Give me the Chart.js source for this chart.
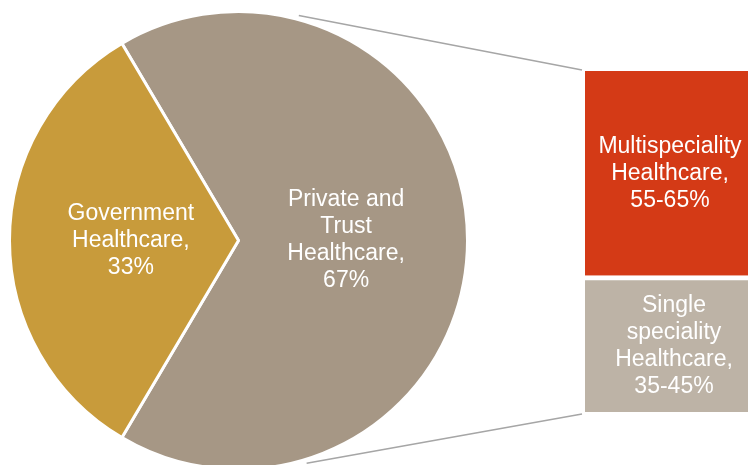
<!DOCTYPE html>
<html>
<head>
<meta charset="utf-8">
<script src="https://cdn.jsdelivr.net/npm/chart.js@4.4.1/dist/chart.umd.min.js"></script>
<style>
  html, body { margin: 0; padding: 0; width: 748px; height: 465px; overflow: hidden; background: #fff; }
  .layer { position: absolute; left: 0; top: 0; width: 760px; height: 480px; }
</style>
</head>
<body>
<div class="layer"><canvas id="pieChart"></canvas></div>
<div class="layer"><canvas id="barChart"></canvas></div>
<script>
// healthcare split: ownership pie + breakdown of the private slice
const pieLabels = ['Private and Trust Healthcare', 'Government Healthcare'];
const pieLines = [['Private and', 'Trust', 'Healthcare,'], ['Government', 'Healthcare,']];
const pieValues = [67, 33];
const pieColors = ['#A69785', '#C89B3B'];

const barLabels = ['Single speciality Healthcare', 'Multispeciality Healthcare'];
const barLines = [['Single', 'speciality', 'Healthcare,'], ['Multispeciality', 'Healthcare,']];
const barRanges = [[35, 45], [55, 65]];
const barColors = ['#BDB3A6', '#D43A16'];

const barValues = barRanges.map(r => (r[0] + r[1]) / 2);

const FONT = '23px "Liberation Sans", Arial, sans-serif';
const LINE_H = 27;

const drawLines = (ctx, lines, x, y) => {
  ctx.save();
  ctx.fillStyle = '#fff';
  ctx.font = FONT;
  ctx.textAlign = 'center';
  ctx.textBaseline = 'middle';
  const top = y - (lines.length - 1) * LINE_H / 2;
  lines.forEach((t, i) => ctx.fillText(t, x, top + i * LINE_H));
  ctx.restore();
};

// private slice spans 241.2deg centred on the right side
const privateSweep = pieValues[0] / (pieValues[0] + pieValues[1]) * 360;
const pieRotation = 90 - privateSweep / 2;

const pieLabelPlugin = {
  id: 'pieLabels',
  afterDatasetsDraw(chart) {
    const ctx = chart.ctx;
    chart.getDatasetMeta(0).data.forEach((arc, i) => {
      const mid = (arc.startAngle + arc.endAngle) / 2;
      const r = arc.outerRadius * 0.47;
      const lines = pieLines[i].concat(pieValues[i] + '%');
      drawLines(ctx, lines, arc.x + Math.cos(mid) * r, arc.y + Math.sin(mid) * r);
    });
  }
};

const pieChart = new Chart(document.getElementById('pieChart'), {
  type: 'pie',
  data: {
    labels: pieLabels,
    datasets: [{
      data: pieValues,
      backgroundColor: pieColors,
      borderColor: '#fff',
      borderWidth: 3,
      hoverOffset: 0
    }]
  },
  options: {
    responsive: true,
    maintainAspectRatio: false,
    animation: false,
    rotation: pieRotation,
    layout: { padding: { left: 8, top: 10, right: 291, bottom: 9 } },
    plugins: { legend: { display: false }, tooltip: { enabled: false } }
  },
  plugins: [pieLabelPlugin]
});

const barLabelPlugin = {
  id: 'barLabels',
  afterDatasetsDraw(chart) {
    const ctx = chart.ctx;
    barLabels.forEach((_, i) => {
      const bar = chart.getDatasetMeta(i).data[0];
      const lines = barLines[i].concat(barRanges[i][0] + '-' + barRanges[i][1] + '%');
      const top = i === 0 ? bar.y + 5 : bar.y;
      const x = i === 0 ? bar.x + 4 : bar.x;
      drawLines(ctx, lines, x, (top + bar.base) / 2);
    });
  }
};

// grey lines tying the private slice to the stacked column
const connectorPlugin = {
  id: 'connectors',
  afterDraw(chart) {
    const arc = pieChart.getDatasetMeta(0).data[0];
    const lower = chart.getDatasetMeta(0).data[0];
    const upper = chart.getDatasetMeta(1).data[0];
    const left = lower.x - lower.width / 2 - 3;
    const r = arc.outerRadius + 4;
    const ctx = chart.ctx;
    ctx.save();
    ctx.strokeStyle = '#A6A6A6';
    ctx.lineWidth = 1.5;
    ctx.beginPath();
    let a = 75 * Math.PI / 180;
    ctx.moveTo(arc.x + Math.cos(-a) * r, arc.y + Math.sin(-a) * r);
    ctx.lineTo(left, upper.y - 1);
    a = 73 * Math.PI / 180;
    ctx.moveTo(arc.x + Math.cos(a) * r, arc.y + Math.sin(a) * r);
    ctx.lineTo(left, lower.base + 2);
    ctx.stroke();
    ctx.restore();
  }
};

new Chart(document.getElementById('barChart'), {
  type: 'bar',
  data: {
    labels: ['Private and Trust Healthcare'],
    datasets: barLabels.map((label, i) => ({
      label,
      data: [barValues[i]],
      backgroundColor: barColors[i],
      borderColor: '#fff',
      borderWidth: i === 0 ? { top: 5, left: 0, right: 0, bottom: 0 } : 0,
      borderSkipped: false,
      barPercentage: 1,
      categoryPercentage: 1
    }))
  },
  options: {
    responsive: true,
    maintainAspectRatio: false,
    animation: false,
    layout: { padding: { left: 585, top: 71, right: 5, bottom: 68 } },
    scales: {
      x: { stacked: true, display: false },
      y: { stacked: true, display: false, min: 0, max: 100 }
    },
    plugins: { legend: { display: false }, tooltip: { enabled: false } }
  },
  plugins: [barLabelPlugin, connectorPlugin]
});
</script>
</body>
</html>
